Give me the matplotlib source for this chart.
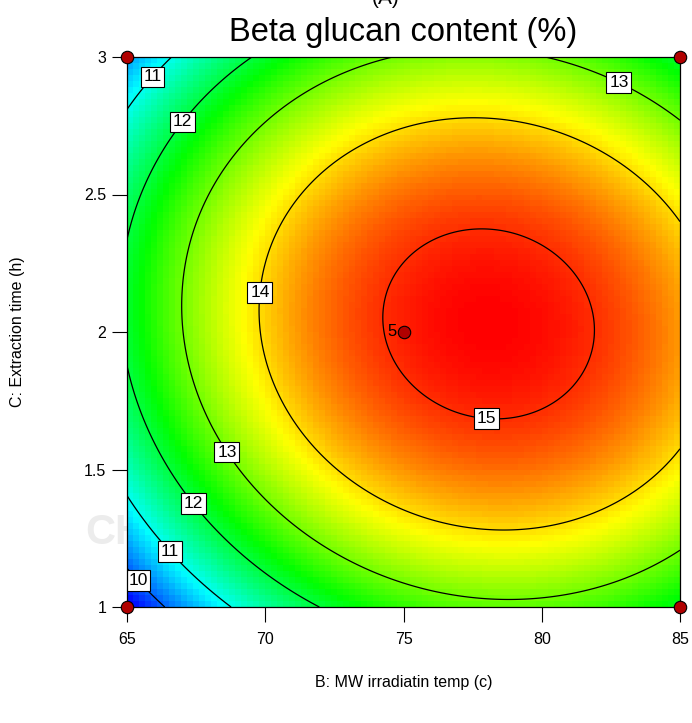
import numpy as np
import matplotlib
matplotlib.use("Agg")
import matplotlib.pyplot as plt
from matplotlib.colors import LinearSegmentedColormap

plt.rcParams["font.family"] = ["Liberation Sans", "DejaVu Sans"]

# Quadratic response-surface model in coded units:
#   b = (B - 75) / 10 ,  c = (C - 2) / 1
intercept = 15.09
coef_B = 1.147
coef_C = 0.217
coef_BC = -0.27
coef_B2 = -1.85
coef_C2 = -2.27

B_range = [65, 85]
C_range = [1, 3]
contour_levels = [10, 11, 12, 13, 14, 15]

# design points shown on the factor space (corners + centre replicates)
design_B = [65, 85, 65, 85, 75]
design_C = [1, 1, 3, 3, 2]
center_runs = "5"

x_ticks = [65, 70, 75, 80, 85]
y_ticks = [1, 1.5, 2, 2.5, 3]

# label anchor points (B, C) for the contour values
label_positions = [(65.73, 2.945), (66.78, 2.782), (83.01, 2.953),
                   (69.93, 2.142), (78.02, 1.731), (68.73, 1.571),
                   (67.61, 1.393), (66.67, 1.211), (65.48, 1.105)]


def response(B, C):
    b = (B - 75.0) / 10.0
    c = (C - 2.0) / 1.0
    return (intercept + coef_B * b + coef_C * c + coef_BC * b * c
            + coef_B2 * b ** 2 + coef_C2 * c ** 2)


cmap = LinearSegmentedColormap.from_list(
    "de_rainbow", ["#0000ff", "#00ffff", "#00ff00", "#ffff00", "#ff0000"])

fig = plt.figure(figsize=(6.92, 7.23), dpi=100)

# faint background watermark lettering, sitting behind the plot area
fig.text(85 / 692, 1 - 533 / 723, "CH", fontsize=30,
         fontweight="bold", color="#ececec", ha="left", va="center",
         zorder=-5)

ax = fig.add_axes([127 / 692, 1 - 607 / 723, 553 / 692, 550 / 723])
ax.set_zorder(1)

# coarse colour grid
n_cells = 92
Be = np.linspace(B_range[0], B_range[1], n_cells + 1)
Ce = np.linspace(C_range[0], C_range[1], n_cells + 1)
Bc = 0.5 * (Be[:-1] + Be[1:])
Cc = 0.5 * (Ce[:-1] + Ce[1:])
BB, CC = np.meshgrid(Bc, Cc)
ax.pcolormesh(Be, Ce, response(BB, CC), cmap=cmap, shading="flat", zorder=1)

# smooth contour lines
Bf = np.linspace(B_range[0], B_range[1], 300)
Cf = np.linspace(C_range[0], C_range[1], 300)
BF, CF = np.meshgrid(Bf, Cf)
cs = ax.contour(BF, CF, response(BF, CF), levels=contour_levels,
                colors="black", linewidths=0.9, zorder=2)
labels = ax.clabel(cs, fmt="%d", fontsize=12.5, inline=False,
                   manual=label_positions)
for t in labels:
    t.set_rotation(0)
    t.set_zorder(5)
    t.set_bbox(dict(boxstyle="square,pad=0.16", fc="white", ec="black", lw=0.8))

ax.scatter(design_B, design_C, s=80, c="#b00000", edgecolors="black",
           linewidths=0.8, zorder=10, clip_on=False)
ax.text(design_B[-1] - 0.25, design_C[-1], center_runs, fontsize=12,
        ha="right", va="center", zorder=11)

ax.set_xlim(B_range)
ax.set_ylim(C_range)
ax.set_xticks(x_ticks)
ax.set_xticklabels([f"{v:g}" for v in x_ticks])
ax.set_yticks(y_ticks)
ax.set_yticklabels([f"{v:g}" for v in y_ticks])
ax.tick_params(axis="both", direction="out", length=11, width=0.8,
               labelsize=11.5, color="black")
ax.tick_params(axis="x", pad=7)
ax.tick_params(axis="y", pad=4)
for sp in ax.spines.values():
    sp.set_linewidth(0.9)
    sp.set_zorder(6)

fig.text(386 / 692, 1 - 3.6 / 723, "(A)", fontsize=15, ha="center",
         va="baseline")
fig.text(403.5 / 692, 1 - 41 / 723, "Beta glucan content (%)", fontsize=23.5,
         ha="center", va="baseline")
fig.text(403.5 / 692, 1 - 683 / 723, "B: MW irradiatin temp (c)",
         fontsize=11.5, ha="center", va="center")
fig.text(18 / 692, 1 - 332 / 723, "C: Extraction time (h)", fontsize=11.5,
         rotation=90, ha="center", va="center")

fig.savefig("out.png", dpi=100)
